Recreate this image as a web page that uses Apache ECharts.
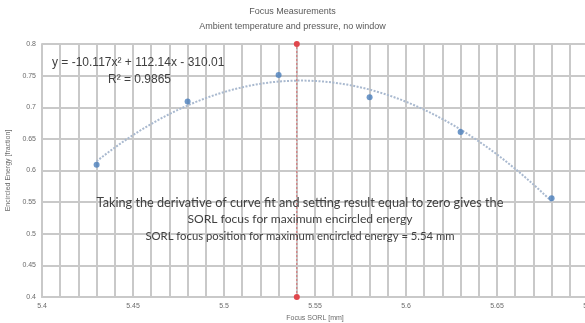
<!DOCTYPE html>
<html>
<head>
<meta charset="utf-8">
<script src="https://cdn.jsdelivr.net/npm/echarts@6/dist/echarts.min.js"></script>
<style>html,body{margin:0;padding:0;background:#fff}#c{width:585px;height:323px}</style>
</head>
<body>
<div id="c"></div>
<script>
const focusX = [5.43, 5.48, 5.53, 5.58, 5.63, 5.68];
const energyY = [0.609, 0.709, 0.751, 0.716, 0.661, 0.556];
const optimumX = 5.54;
const yRange = [0.4, 0.8];
const xRange = [5.4, 5.7];
const titleText = 'Focus Measurements';
const subtitleText = 'Ambient temperature and pressure, no window';
const eqText = 'y = -10.117x² + 112.14x - 310.01';
const r2Text = 'R² = 0.9865';
const noteLines = [
  'Taking the derivative of curve fit and setting result equal to zero gives the',
  'SORL focus for maximum encircled energy',
  'SORL focus position for maximum encircled energy = 5.54 mm'
];

// quadratic least-squares fit (like the spreadsheet trendline), centered for stability
function quadFit(xs, ys) {
  const n = xs.length, m = xs.reduce((a, b) => a + b, 0) / n;
  let S = [0,0,0,0,0], T = [0,0,0];
  xs.forEach((x, i) => {
    const u = x - m;
    for (let k = 0; k < 5; k++) S[k] += Math.pow(u, k);
    for (let k = 0; k < 3; k++) T[k] += ys[i] * Math.pow(u, k);
  });
  const A = [[S[0],S[1],S[2],T[0]],[S[1],S[2],S[3],T[1]],[S[2],S[3],S[4],T[2]]];
  for (let i = 0; i < 3; i++) {
    for (let j = i + 1; j < 3; j++) {
      const f = A[j][i] / A[i][i];
      for (let k = i; k < 4; k++) A[j][k] -= f * A[i][k];
    }
  }
  const c = [0,0,0];
  for (let i = 2; i >= 0; i--) {
    let s = A[i][3];
    for (let k = i + 1; k < 3; k++) s -= A[i][k] * c[k];
    c[i] = s / A[i][i];
  }
  return x => c[0] + c[1] * (x - m) + c[2] * (x - m) * (x - m);
}
const fit = quadFit(focusX, energyY);
const trend = [];
const x0 = focusX[0], x1 = focusX[focusX.length - 1];
for (let i = 0; i <= 60; i++) {
  const x = x0 + (x1 - x0) * i / 60;
  trend.push([x, fit(x)]);
}

const chart = echarts.init(document.getElementById('c'), null, {renderer: 'canvas'});
const gridColor = '#c9c9c9';
const labelColor = '#6b6b6b';
const FF = 'Liberation Sans, Arial, sans-serif';
const NF = 'Lato, Liberation Sans, sans-serif';
const noteSizes = [12.7, 12.1, 11.3];
const noteY = [203, 219.5, 236];
chart.setOption({
  animation: false,
  backgroundColor: '#fff',
  title: {
    text: titleText,
    subtext: subtitleText,
    left: 'center',
    top: 2,
    itemGap: 6,
    textStyle: {fontSize: 9, fontWeight: 'normal', color: '#595959', fontFamily: FF},
    subtextStyle: {fontSize: 9, color: '#595959', fontFamily: FF}
  },
  grid: {left: 42, right: -3, top: 44, bottom: 26, outerBoundsMode: 'none', containLabel: false},
  xAxis: {
    type: 'value', min: xRange[0], max: xRange[1], interval: 0.05,
    name: 'Focus SORL [mm]', nameLocation: 'middle', nameGap: 16,
    nameTextStyle: {fontSize: 7, color: labelColor, fontFamily: FF},
    axisLine: {show: true, lineStyle: {color: gridColor, width: 2}},
    axisTick: {show: false},
    axisLabel: {fontSize: 7, color: labelColor, margin: 6, fontFamily: FF,
      formatter: v => String(+v.toFixed(2))},
    splitLine: {show: true, lineStyle: {color: gridColor, width: 2}},
    minorTick: {show: false, splitNumber: 5},
    minorSplitLine: {show: true, lineStyle: {color: gridColor, width: 2}}
  },
  yAxis: {
    type: 'value', min: yRange[0], max: yRange[1], interval: 0.05,
    name: 'Encircled Energy [fraction]', nameLocation: 'middle', nameGap: 26,
    nameTextStyle: {fontSize: 7, color: labelColor, fontFamily: FF},
    axisLine: {show: true, lineStyle: {color: gridColor, width: 2}},
    axisTick: {show: false},
    axisLabel: {fontSize: 7, color: labelColor, margin: 6, fontFamily: FF,
      formatter: v => String(+v.toFixed(2))},
    splitLine: {show: true, lineStyle: {color: gridColor, width: 2}}
  },
  series: [
    {
      type: 'line', data: trend, showSymbol: false, symbol: 'none', silent: true,
      lineStyle: {color: '#a9b9cf', width: 2, type: [2, 1.5]}, z: 3
    },
    {
      type: 'scatter', data: focusX.map((x, i) => [x, energyY[i]]),
      symbol: 'circle', symbolSize: 6,
      itemStyle: {color: '#4a7ebb'}, z: 5
    },
    {
      type: 'line', data: [[optimumX, yRange[0]], [optimumX, yRange[1]]],
      symbol: 'circle', symbolSize: 6, showSymbol: true,
      lineStyle: {color: '#d96a6a', width: 1, type: [2, 2]},
      itemStyle: {color: '#e0474c'}, z: 4
    }
  ],
  graphic: [
    {type: 'text', z: 100, left: 52, top: 57, style: {text: eqText, fontSize: 12, fill: '#404040', fontFamily: FF}},
    {type: 'text', z: 100, left: 108, top: 74, style: {text: r2Text, fontSize: 12, fill: '#404040', fontFamily: FF}}
  ].concat(noteLines.map((t, i) => ({
    type: 'text', z: 100, x: 300, y: noteY[i],
    style: {text: t, fontSize: noteSizes[i], align: 'center', verticalAlign: 'middle', fill: '#404040', fontFamily: NF}
  })))
});
</script>
</body>
</html>
